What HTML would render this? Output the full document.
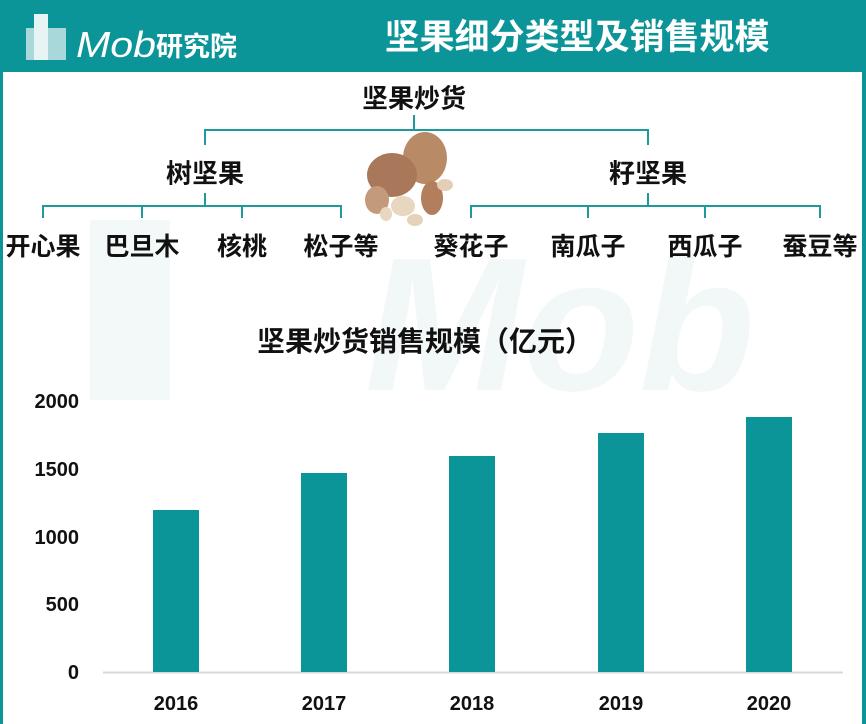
<!DOCTYPE html>
<html><head><meta charset="utf-8"><style>
body{margin:0;width:866px;height:724px;background:#fff;overflow:hidden;position:relative;font-family:"Liberation Sans","Noto Sans CJK SC",sans-serif}
.t{position:absolute;font-weight:bold;color:#111;white-space:nowrap;transform:translate(-50%,-50%)}
</style></head><body>
<svg width="866" height="724" style="position:absolute;left:0;top:0">
<text x="560" y="390" font-size="190" font-style="italic" font-weight="bold" fill="#f1f8f7" font-family="Liberation Sans" text-anchor="middle">Mob</text>
<rect x="90" y="220" width="80" height="180" fill="#f3f9f8"/>
<rect x="0" y="0" width="866" height="72" fill="#0b9599"/>
<rect x="0" y="0" width="3" height="724" fill="#0b9599"/>
<rect x="862" y="0" width="4" height="724" fill="#0b9599"/>
<rect x="26" y="28" width="40" height="32" fill="#cfe9ea" opacity=".8"/>
<rect x="34" y="14" width="14" height="46" fill="#e6f4f4"/>
<text x="76" y="57" font-size="36" font-style="italic" fill="#fff" font-family="Liberation Sans" textLength="80" lengthAdjust="spacingAndGlyphs">Mob</text>
<text x="156" y="56" font-size="27" font-weight="bold" fill="#fff" font-family="Noto Sans CJK SC">研究院</text>
<text x="577" y="49" font-size="35" font-weight="bold" fill="#fff" text-anchor="middle" font-family="Noto Sans CJK SC">坚果细分类型及销售规模</text>
<g stroke="#1c9a9c" stroke-width="2" fill="none">
<path d="M414 115V130M205 145V130H648V145"/>
<path d="M205 193V206M43 218V206H341V218M142 206V218M242 206V218"/>
<path d="M648 193V206M471 218V206H820V218M588 206V218M705 206V218"/>
</g>
<g>
<ellipse cx="425" cy="158" rx="22" ry="26" fill="#b88a66"/>
<ellipse cx="392" cy="175" rx="25" ry="22" fill="#a9785a"/>
<ellipse cx="377" cy="200" rx="12" ry="14" fill="#c39a7c"/>
<ellipse cx="432" cy="198" rx="11" ry="17" fill="#b27e5e"/>
<ellipse cx="403" cy="206" rx="12" ry="10" fill="#e8d6be"/>
<ellipse cx="415" cy="220" rx="8" ry="6" fill="#e6d2b8"/>
<ellipse cx="386" cy="214" rx="6" ry="7" fill="#e8d6be"/>
<ellipse cx="445" cy="185" rx="8" ry="6" fill="#e4cfb6"/>
</g>
<line x1="103" y1="672.5" x2="843" y2="672.5" stroke="#d9d9d9" stroke-width="2"/>
<g fill="#0b9599">
<rect x="153" y="510" width="46" height="162"/>
<rect x="301" y="473" width="46" height="199"/>
<rect x="449" y="456" width="46" height="216"/>
<rect x="598" y="433" width="46" height="239"/>
<rect x="746" y="417" width="46" height="255"/>
</g>
<g font-size="20" font-weight="bold" fill="#111" text-anchor="end" font-family="Liberation Sans">
<text x="79" y="408">2000</text><text x="79" y="476">1500</text><text x="79" y="544">1000</text><text x="79" y="611">500</text><text x="79" y="679">0</text>
</g>
<g font-size="20" font-weight="bold" fill="#111" text-anchor="middle" font-family="Liberation Sans">
<text x="176" y="710">2016</text><text x="324" y="710">2017</text><text x="472" y="710">2018</text><text x="621" y="710">2019</text><text x="769" y="710">2020</text>
</g>
</svg>
<div class="t" style="left:414px;top:97px;font-size:26px">坚果炒货</div>
<div class="t" style="left:205px;top:172px;font-size:26px">树坚果</div>
<div class="t" style="left:648px;top:172px;font-size:26px">籽坚果</div>
<div class="t" style="left:43px;top:245px;font-size:25px">开心果</div>
<div class="t" style="left:142px;top:245px;font-size:25px">巴旦木</div>
<div class="t" style="left:242px;top:245px;font-size:25px">核桃</div>
<div class="t" style="left:341px;top:245px;font-size:25px">松子等</div>
<div class="t" style="left:471px;top:245px;font-size:25px">葵花子</div>
<div class="t" style="left:588px;top:245px;font-size:25px">南瓜子</div>
<div class="t" style="left:705px;top:245px;font-size:25px">西瓜子</div>
<div class="t" style="left:820px;top:245px;font-size:25px">蚕豆等</div>
<div class="t" style="left:425px;top:340px;font-size:28px">坚果炒货销售规模（亿元）</div>
</body></html>
